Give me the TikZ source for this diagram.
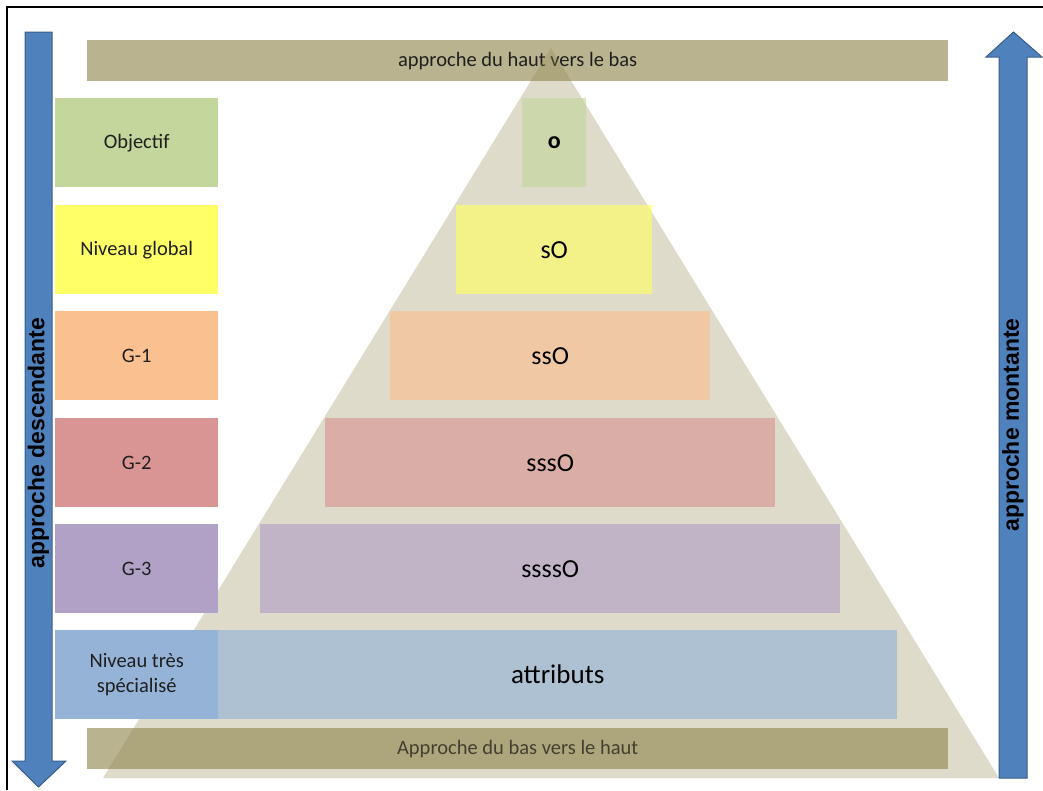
\documentclass[tikz,border=0pt]{standalone}
\usepackage{fontspec}
\setmainfont{Carlito}
\newfontfamily\arrowfont{Liberation Sans}
\definecolor{bandtan}{HTML}{B9B38F}
\definecolor{pyrtan}{HTML}{948A54}
\definecolor{arrowblue}{HTML}{4F81BD}
\definecolor{arrowedge}{HTML}{385D8A}
\definecolor{lvgreen}{HTML}{C3D69B}
\definecolor{lvyellow}{HTML}{FFFF66}
\definecolor{lvorange}{HTML}{FAC090}
\definecolor{lvred}{HTML}{D99594}
\definecolor{lvpurple}{HTML}{B2A1C7}
\definecolor{lvblue}{HTML}{95B3D7}
\definecolor{inktext}{HTML}{1F1F1F}
\begin{document}
\begin{tikzpicture}[x=1pt,y=-1pt,
  band/.style={fill=bandtan, minimum width=861pt, minimum height=41pt,
    inner sep=0pt, anchor=north west, text=inktext,
    font=\fontsize{20.5}{24}\selectfont},
  label/.style={fill=#1, minimum width=163pt, minimum height=89pt,
    inner sep=0pt, anchor=north west, text=inktext, align=center,
    font=\fontsize{20.5}{25}\selectfont},
  level/.style={fill=#1, fill opacity=0.65, text opacity=1,
    minimum height=89pt, inner sep=0pt, anchor=north west, text=black,
    font=\fontsize{26}{30}\selectfont},
  bigarrow/.style={fill=arrowblue, draw=arrowedge, line width=1pt, line join=miter},
  arrowtext/.style={rotate=90, text=black, inner sep=0pt,
    font=\arrowfont\bfseries\fontsize{23}{26}\selectfont}
]
\useasboundingbox (0,0) rectangle (1043,790);

% outer frame (top and left edges)
\draw[line width=2pt] (7,790) -- (7,7) -- (1043,7);

% horizontal bands
\node[band] (top) at (87,40) {approche du haut vers le bas};
\node[band] (bottom) at (87,728) {Approche du bas vers le haut};

% translucent pyramid
\fill[pyrtan, fill opacity=0.31] (551,48) -- (103,778) -- (999,778) -- cycle;

% pyramid levels
\node[level=lvgreen, minimum width=64pt, font=\bfseries\fontsize{24}{28}\selectfont] (o) at (522,98) {o};
\node[level=lvyellow, minimum width=196pt] (so) at (456,205) {sO};
\node[level=lvorange, minimum width=320pt] (sso) at (390,311) {ssO};
\node[level=lvred, minimum width=450pt] (ssso) at (325,418) {sssO};
\node[level=lvpurple, minimum width=580pt] (sssso) at (260,524) {ssssO};
\node[level=lvblue, minimum width=679pt, font=\fontsize{27}{30}\selectfont] (attr) at (218,630) {attributs};

% level labels
\node[label=lvgreen] (l0) at (55,98) {Objectif};
\node[label=lvyellow] (l1) at (55,205) {Niveau global};
\node[label=lvorange] (l2) at (55,311) {G-1};
\node[label=lvred] (l3) at (55,418) {G-2};
\node[label=lvpurple] (l4) at (55,524) {G-3};
\node[label=lvblue] (l5) at (55,630) {Niveau très\\spécialisé};

% downward arrow
\draw[bigarrow] (25,32) -- (52,32) -- (52,761) -- (66,761) -- (38.5,787)
  -- (12,761) -- (25,761) -- cycle;
\node[arrowtext] (down) at (38.5,443) {approche descendante};

% upward arrow
\draw[bigarrow] (999,778) -- (1027,778) -- (1027,57) -- (1042,57) -- (1013.5,32)
  -- (986,57) -- (999,57) -- cycle;
\node[arrowtext] (up) at (1013,425) {approche montante};
\end{tikzpicture}
\end{document}
